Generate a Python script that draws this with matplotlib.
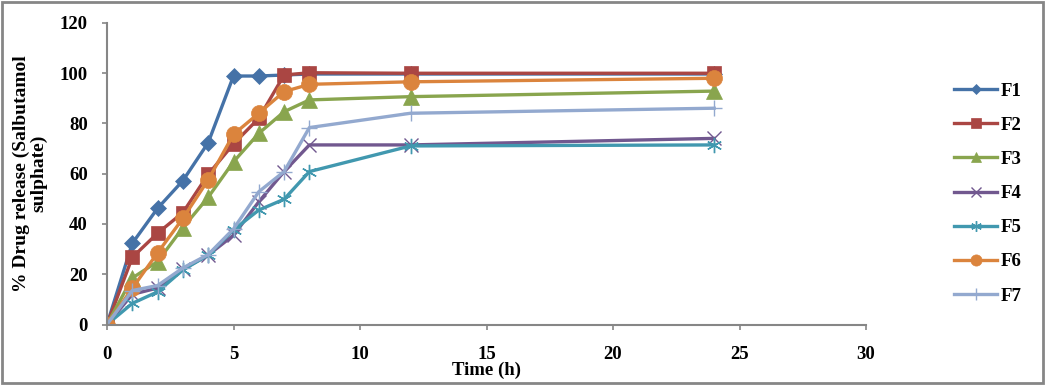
import matplotlib
matplotlib.use("Agg")
import matplotlib.pyplot as plt
from matplotlib.patches import Rectangle

time_h = [0, 1, 2, 3, 4, 5, 6, 7, 8, 12, 24]
F1 = [0, 32.3, 46.2, 57.2, 72.3, 98.8, 98.8, 99.2, 99.6, 99.6, 99.6]
F2 = [0, 26.7, 36.3, 44.5, 59.7, 71.8, 82.0, 99.2, 100.1, 99.9, 99.9]
F3 = [0, 18.5, 25.0, 38.5, 50.6, 64.7, 76.0, 84.6, 89.3, 90.6, 92.8]
F4 = [0, 12.0, 14.5, 22.0, 27.6, 35.5, 48.8, 60.8, 71.4, 71.4, 74.0]
F5 = [0, 8.4, 13.0, 21.7, 27.6, 37.6, 45.5, 49.8, 60.8, 71.0, 71.4]
F6 = [0, 14.4, 28.5, 42.2, 57.5, 75.6, 84.0, 92.6, 95.5, 96.5, 97.9]
F7 = [0, 13.5, 15.5, 22.5, 27.8, 38.0, 52.8, 60.8, 78.3, 84.0, 86.0]

series_names = ["F1", "F2", "F3", "F4", "F5", "F6", "F7"]
series_values = [F1, F2, F3, F4, F5, F6, F7]
colors = ["#4572A7", "#AA4643", "#89A54E", "#71588F", "#4198AF", "#DB843D", "#93A9CF"]
markers = ["D", "s", "^", "x", (6, 2, 0), "o", "+"]
msizes = [8, 10, 11, 10, 11, 11.5, 12]

x_ticks = [0, 5, 10, 15, 20, 25, 30]
y_ticks = [0, 20, 40, 60, 80, 100, 120]

plt.rcParams['font.family'] = ['Liberation Serif', 'DejaVu Serif']

W, H = 1045, 385
fig = plt.figure(figsize=(W / 100, H / 100), dpi=100)
ax = fig.add_axes([107 / W, 1 - 324.5 / H, (866 - 107) / W, (324.5 - 22.7) / H])

for name, vals, c, m, ms in zip(series_names, series_values, colors, markers, msizes):
    mew = 1.0 if m in ("x", "+") or isinstance(m, tuple) else 0.5
    ax.plot(time_h, vals, color=c, lw=2.4, marker=m, markersize=ms,
            markeredgecolor=c, markerfacecolor=c, markeredgewidth=mew, label=name)

ax.set_xlim(0, 30)
ax.set_ylim(0, 120)
ax.set_xticks(x_ticks)
ax.set_yticks(y_ticks)
ax.tick_params(axis='both', colors='#868686', labelcolor='black', direction='out',
               length=3.75, width=1.2, labelsize=13.5)
for lab in ax.get_xticklabels() + ax.get_yticklabels():
    lab.set_fontweight('bold')
for s in ['top', 'right']:
    ax.spines[s].set_visible(False)
for s in ['left', 'bottom']:
    ax.spines[s].set_color('#868686')
    ax.spines[s].set_linewidth(1.5)
ax.tick_params(axis='x', pad=12)
ax.tick_params(axis='y', pad=10)

axh = 324.5 - 22.7
axw = 866 - 107
ax.set_xlabel("Time (h)", fontsize=13.5, fontweight='bold')
ax.xaxis.label.set_va('center')
ax.xaxis.set_label_coords(0.5, -(370 - 324.5) / axh)
ax.set_ylabel("% Drug release (Salbutamol\nsulphate)", fontsize=14, fontweight='bold',
              linespacing=0.95)
ax.yaxis.label.set_va('center')
ax.yaxis.set_label_coords(-(107 - 30) / axw, 0.5)

leg = ax.legend(loc='center left', bbox_to_anchor=(954 / W, 1 - 193.5 / H),
                bbox_transform=fig.transFigure, frameon=False,
                prop={'size': 13.5, 'weight': 'bold'}, handlelength=2.3, handletextpad=0.2,
                labelspacing=0.91, numpoints=1, markerscale=0.7,
                borderaxespad=0, borderpad=0)

fig.patches.append(Rectangle((0.002, 0.004), 0.996, 0.99, transform=fig.transFigure,
                             fill=False, edgecolor='#868686', linewidth=2))

fig.savefig("out.png", dpi=100)
